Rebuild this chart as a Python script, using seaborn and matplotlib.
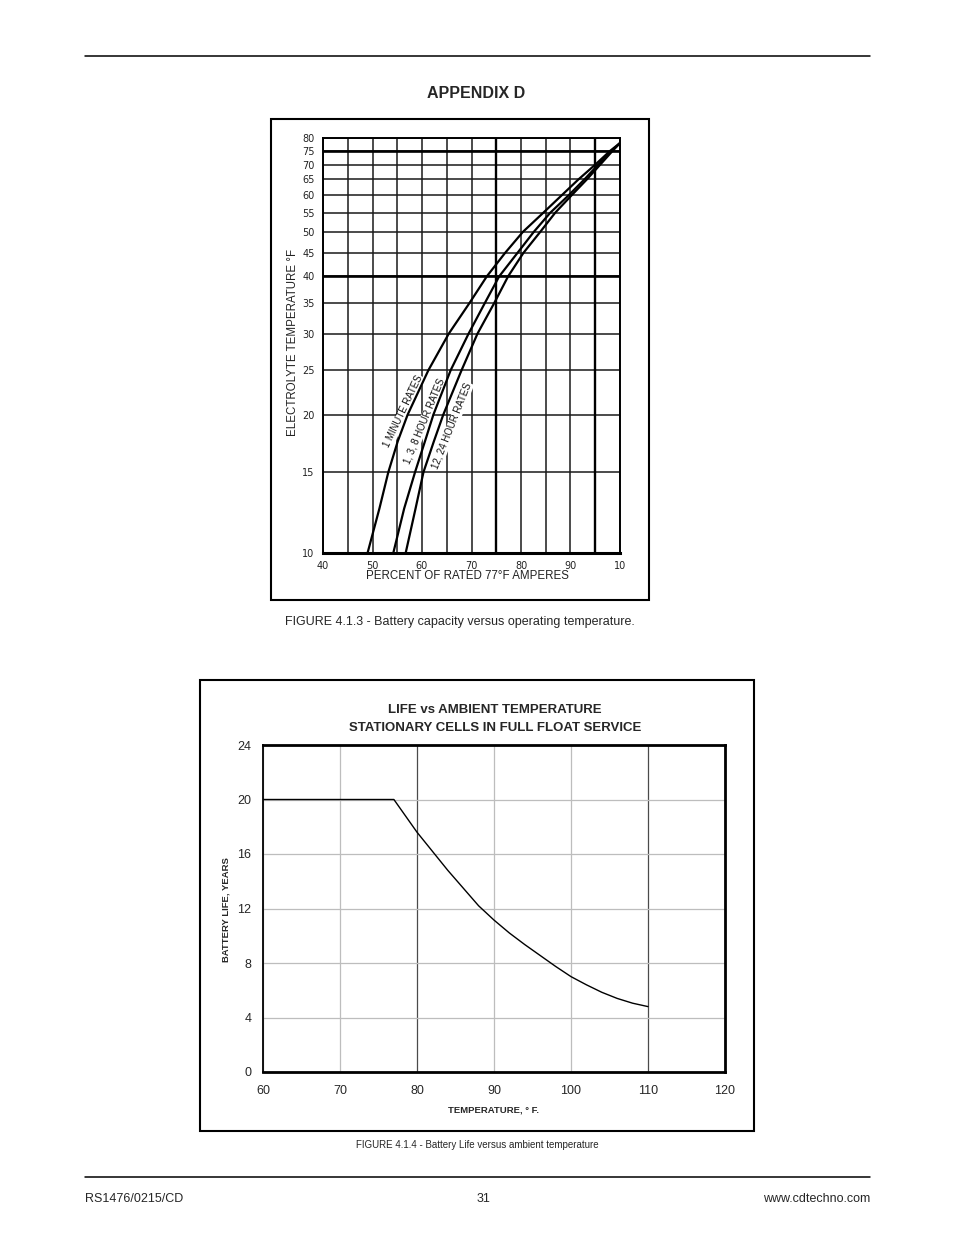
import numpy as np
import pandas as pd
import matplotlib
matplotlib.use("Agg")
import matplotlib.pyplot as plt
import seaborn as sns
from matplotlib.patches import Rectangle
from matplotlib.lines import Line2D
from matplotlib.ticker import FixedLocator, NullLocator, MultipleLocator

# ---- FIGURE 4.1.3 : capacity vs electrolyte temperature ----
temp_f = [10, 12.5, 15, 17.5, 20, 25, 30, 35, 40, 45, 50, 55, 60, 65, 70, 75, 78]
pct_1min = [49.0, 51.4, 53.2, 55.1, 57.1, 61.3, 65.4, 69.6, 73.1, 76.8, 80.4, 84.5, 88.2, 91.6, 95.0, 98.0, 100]
pct_138hr = [54.2, 56.4, 58.6, 60.6, 62.3, 65.8, 69.4, 72.7, 75.6, 79.3, 82.6, 85.9, 89.6, 92.8, 95.6, 98.3, 100]
pct_1224hr = [56.7, 58.7, 60.3, 62.4, 64.3, 68.0, 71.2, 74.6, 77.4, 80.5, 83.9, 86.9, 90.2, 93.3, 96.0, 98.5, 100]
curve_names = ["1 MINUTE RATES", "1, 3, 8 HOUR RATES", "12, 24 HOUR RATES"]
# where the curve labels sit (percent, temp) and their slant
label_pos = [(56.3, 20.3), (60.5, 19.4), (66.1, 18.9)]
label_rot = [64.5, 67.5, 68.4]
temp_ticks = [10, 15, 20, 25, 30, 35, 40, 45, 50, 55, 60, 65, 70, 75, 80]
heavy_temp = [40, 75]
heavy_pct = [75, 95]
pct_ticks = [40, 50, 60, 70, 80, 90, 100]
pct_ticklabels = ["40", "50", "60", "70", "80", "90", "10"]

# ---- FIGURE 4.1.4 : life vs ambient temperature ----
amb_temp = [60, 77, 80, 82, 84, 86, 88, 90, 92, 94, 96, 98, 100, 102, 104, 106, 108, 110]
life_years = [20, 20, 17.6, 16.2, 14.8, 13.5, 12.2, 11.15, 10.2, 9.35, 8.55, 7.75, 7.0, 6.4, 5.85, 5.4, 5.05, 4.8]
dark_temp = [80, 110]

sns.set_style("white")
plt.rcParams['font.family'] = ['Liberation Sans', 'DejaVu Sans']

W, H = 954, 1235
fig = plt.figure(figsize=(W / 100, H / 100), dpi=100)

def fx(px):
    return px / W

def fy(py):
    return 1 - py / H

# page header / footer
fig.add_artist(Line2D([fx(85), fx(870)], [fy(56), fy(56)], transform=fig.transFigure, color='black', lw=1.1))
fig.add_artist(Line2D([fx(85), fx(870)], [fy(1177), fy(1177)], transform=fig.transFigure, color='black', lw=1.1))
fig.text(fx(476), fy(93), "APPENDIX D", ha='center', va='center', fontsize=11.5, fontweight='bold')
fig.text(fx(85), fy(1199), "RS1476/0215/CD", ha='left', va='center', fontsize=9)
fig.text(fx(484), fy(1199), "31", ha='center', va='center', fontsize=9)
fig.text(fx(870), fy(1199), "www.cdtechno.com", ha='right', va='center', fontsize=9)

# ================= top chart =================
fig.add_artist(Rectangle((fx(271), fy(600)), fx(378), 481 / H, transform=fig.transFigure,
                         fill=False, ec='black', lw=1.5))
ax1 = fig.add_axes([fx(323), fy(553), fx(620 - 323), (553 - 138) / H])

df1 = pd.DataFrame({
    'temp': temp_f * 3,
    'pct': pct_1min + pct_138hr + pct_1224hr,
    'curve': np.repeat(curve_names, len(temp_f)),
})
sns.lineplot(data=df1, x='pct', y='temp', units='curve', estimator=None, sort=False,
             color='black', lw=1.6, ax=ax1, zorder=4)

ax1.set_yscale('log')
ax1.set_xlim(40, 100)
ax1.set_ylim(10, 80)
ax1.yaxis.set_major_locator(FixedLocator(temp_ticks))
ax1.yaxis.set_minor_locator(NullLocator())
ax1.set_yticklabels([str(t) for t in temp_ticks])
ax1.set_xticks(pct_ticks)
ax1.set_xticklabels(pct_ticklabels)
ax1.xaxis.set_minor_locator(MultipleLocator(5))
ax1.grid(which='both', color='#1a1a1a', lw=1.1)
for t in heavy_temp:
    ax1.axhline(t, color='black', lw=1.9, zorder=1)
for p in heavy_pct:
    ax1.axvline(p, color='black', lw=1.7, zorder=1)
ax1.set_axisbelow(True)
for s in ax1.spines.values():
    s.set_color('black')
    s.set_linewidth(1.4)
ax1.spines['bottom'].set_linewidth(2.2)
ax1.tick_params(axis='both', which='major', length=3, width=1, color='#333333', pad=3,
                labelsize=7, labelcolor='#222222')
ax1.tick_params(axis='x', which='minor', length=0)
for lab in ax1.get_xticklabels() + ax1.get_yticklabels():
    lab.set_family(['DejaVu Sans'])
ax1.set_xlabel('')
ax1.set_ylabel('')
fig.text(fx(467), fy(576), "PERCENT OF RATED 77°F AMPERES", ha='center', va='center',
         fontsize=8.3, color='#222222')
fig.text(fx(293), fy(342), "ELECTROLYTE TEMPERATURE °F", ha='center', va='center',
         rotation=90, fontsize=8.3, color='#222222')

for name, (lx, ly), rot in zip(curve_names, label_pos, label_rot):
    ax1.text(lx, ly, name, rotation=rot, rotation_mode='anchor', ha='center', va='center',
             fontsize=6.9, color='#111111', zorder=3,
             bbox=dict(fc='white', ec='none', pad=0.3))

fig.text(fx(460), fy(622), "FIGURE 4.1.3 - Battery capacity versus operating temperature.",
         ha='center', va='center', fontsize=9)

# ================= bottom chart =================
fig.add_artist(Rectangle((fx(200), fy(1131)), fx(554), 451 / H, transform=fig.transFigure,
                         fill=False, ec='black', lw=1.5))
ax2 = fig.add_axes([fx(263), fy(1072), fx(725 - 263), (1072 - 745) / H])
sns.lineplot(x=amb_temp, y=life_years, color='black', lw=1.0, ax=ax2, sort=False, zorder=4)
ax2.set_xlim(60, 120)
ax2.set_ylim(0, 24)
ax2.set_xticks(np.arange(60, 121, 10))
ax2.set_yticks(np.arange(0, 25, 4))
ax2.grid(True, color='#bdbdbd', lw=0.9)
ax2.set_axisbelow(True)
for gl, t in zip(ax2.get_xgridlines(), ax2.get_xticks()):
    if t in dark_temp:
        gl.set_color('#4a4a4a')
for s in ax2.spines.values():
    s.set_color('black')
    s.set_linewidth(2)
ax2.spines['left'].set_linewidth(1.3)
ax2.tick_params(axis='both', length=3.5, width=1, color='black', labelsize=9, pad=6)
ax2.tick_params(axis='y', pad=5)
fig.text(fx(495), fy(710), "LIFE vs AMBIENT TEMPERATURE", ha='center', va='center',
         fontsize=9.5, fontweight='bold')
fig.text(fx(495), fy(728), "STATIONARY CELLS IN FULL FLOAT SERVICE", ha='center', va='center',
         fontsize=9.5, fontweight='bold')
fig.text(fx(226), fy(910), "BATTERY LIFE, YEARS", ha='center', va='center', rotation=90,
         fontsize=6.8, fontweight='bold')
fig.text(fx(494), fy(1110), "TEMPERATURE, ° F.", ha='center', va='center',
         fontsize=6.8, fontweight='bold')

fig.text(fx(477), fy(1145), "FIGURE 4.1.4 - Battery Life versus ambient temperature",
         ha='center', va='center', fontsize=7)

fig.savefig("out.png", dpi=100)
